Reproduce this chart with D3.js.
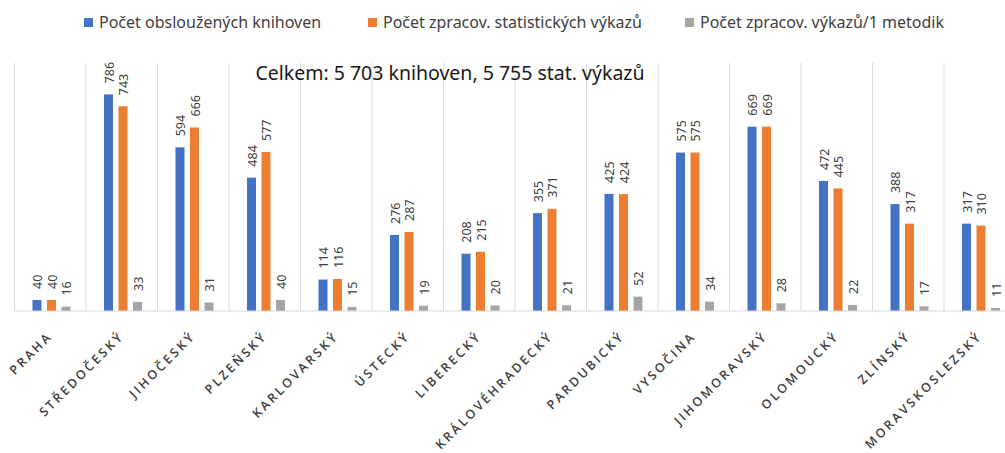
<!DOCTYPE html>
<html>
<head>
<meta charset="utf-8">
<script src="https://cdn.jsdelivr.net/npm/d3@7"></script>
<style>
  body { margin: 0; background: #fff; }
  svg { display: block; }
</style>
</head>
<body>
<script>
// Data
var regions = ["PRAHA", "STŘEDOČESKÝ", "JIHOČESKÝ", "PLZEŇSKÝ", "KARLOVARSKÝ", "ÚSTECKÝ",
               "LIBERECKÝ", "KRÁLOVÉHRADECKÝ", "PARDUBICKÝ", "VYSOČINA", "JIHOMORAVSKÝ",
               "OLOMOUCKÝ", "ZLÍNSKÝ", "MORAVSKOSLEZSKÝ"];
var seriesNames = ["Počet obsloužených knihoven", "Počet zpracov. statistických výkazů", "Počet zpracov. výkazů/1 metodik"];
var knihovny = [40, 786, 594, 484, 114, 276, 208, 355, 425, 575, 669, 472, 388, 317];
var vykazy   = [40, 743, 666, 577, 116, 287, 215, 371, 424, 575, 669, 445, 317, 310];
var naMetodika = [16, 33, 31, 40, 15, 19, 20, 21, 52, 34, 28, 22, 17, 11];
var colors = ["#4472C4", "#ED7D31", "#A5A5A5"];
var title = "Celkem: 5 703 knihoven, 5 755 stat. výkazů";

var w = 1005, h = 453;
var top0 = 63, base = 311;

var svg = d3.select("body").append("svg")
    .attr("width", w)
    .attr("height", h);

var rows = regions.map((r, i) => ({region: r, values: [knihovny[i], vykazy[i], naMetodika[i]]}));

var x0 = d3.scaleBand().domain(regions).range([14.5, 1015.5]);
var x1 = d3.scaleBand().domain(d3.range(3)).range([18, 56]).paddingInner(0.38);
var y = d3.scaleLinear().domain([0, 900]).range([base, top0]);

// vertical gridlines at category boundaries
svg.append("g").selectAll("line")
    .data(d3.range(regions.length + 1))
    .enter().append("line")
    .attr("x1", i => x0.range()[0] + i * x0.step())
    .attr("x2", i => x0.range()[0] + i * x0.step())
    .attr("y1", top0)
    .attr("y2", base)
    .attr("stroke", "#D9D9D9")
    .attr("stroke-width", 1);

// title
svg.append("text")
    .attr("x", 450)
    .attr("y", 80)
    .attr("text-anchor", "middle")
    .attr("font-family", "Noto Sans")
    .attr("font-size", 19.5)
    .attr("fill", "#1a1a1a")
    .text(title);

// bars
var groups = svg.append("g").selectAll("g")
    .data(rows)
    .enter().append("g")
    .attr("transform", d => `translate(${x0(d.region)},0)`);

groups.selectAll("rect")
    .data(d => d.values)
    .enter().append("rect")
    .attr("x", (v, i) => x1(i))
    .attr("y", v => y(v))
    .attr("width", x1.bandwidth())
    .attr("height", v => base - y(v))
    .attr("fill", (v, i) => colors[i]);

// data labels
groups.selectAll("text")
    .data(d => d.values)
    .enter().append("text")
    .attr("transform", (v, i) => `translate(${x1(i) + x1.bandwidth() / 2 + 1},${y(v) - 11}) rotate(-90)`)
    .attr("dy", "0.35em")
    .attr("font-family", "Noto Sans")
    .attr("font-size", 12.5)
    .attr("fill", "#404040")
    .text(v => v);

// baseline
svg.append("line")
    .attr("x1", 14.5).attr("x2", w)
    .attr("y1", base).attr("y2", base)
    .attr("stroke", "#D9D9D9");

// category labels
svg.append("g").selectAll("text")
    .data(regions)
    .enter().append("text")
    .attr("transform", d => `translate(${x0(d) + x0.bandwidth() / 2 + 3},${base + 26}) rotate(-45)`)
    .attr("text-anchor", "end")
    .attr("font-family", "Open Sans")
    .attr("font-weight", 600)
    .attr("font-size", 12.5)
    .attr("letter-spacing", 2.6)
    .attr("fill", "#404040")
    .text(d => d);

// legend
var legendX = [84, 368, 685];
var legend = svg.append("g").selectAll("g")
    .data(seriesNames)
    .enter().append("g")
    .attr("transform", (d, i) => `translate(${legendX[i]},17)`);

legend.append("rect")
    .attr("width", 9).attr("height", 9)
    .attr("y", 1)
    .attr("fill", (d, i) => colors[i]);

legend.append("text")
    .attr("x", 15)
    .attr("y", 11)
    .attr("font-family", "Noto Sans")
    .attr("font-size", 16)
    .attr("fill", "#404040")
    .text(d => d);
</script>
</body>
</html>
